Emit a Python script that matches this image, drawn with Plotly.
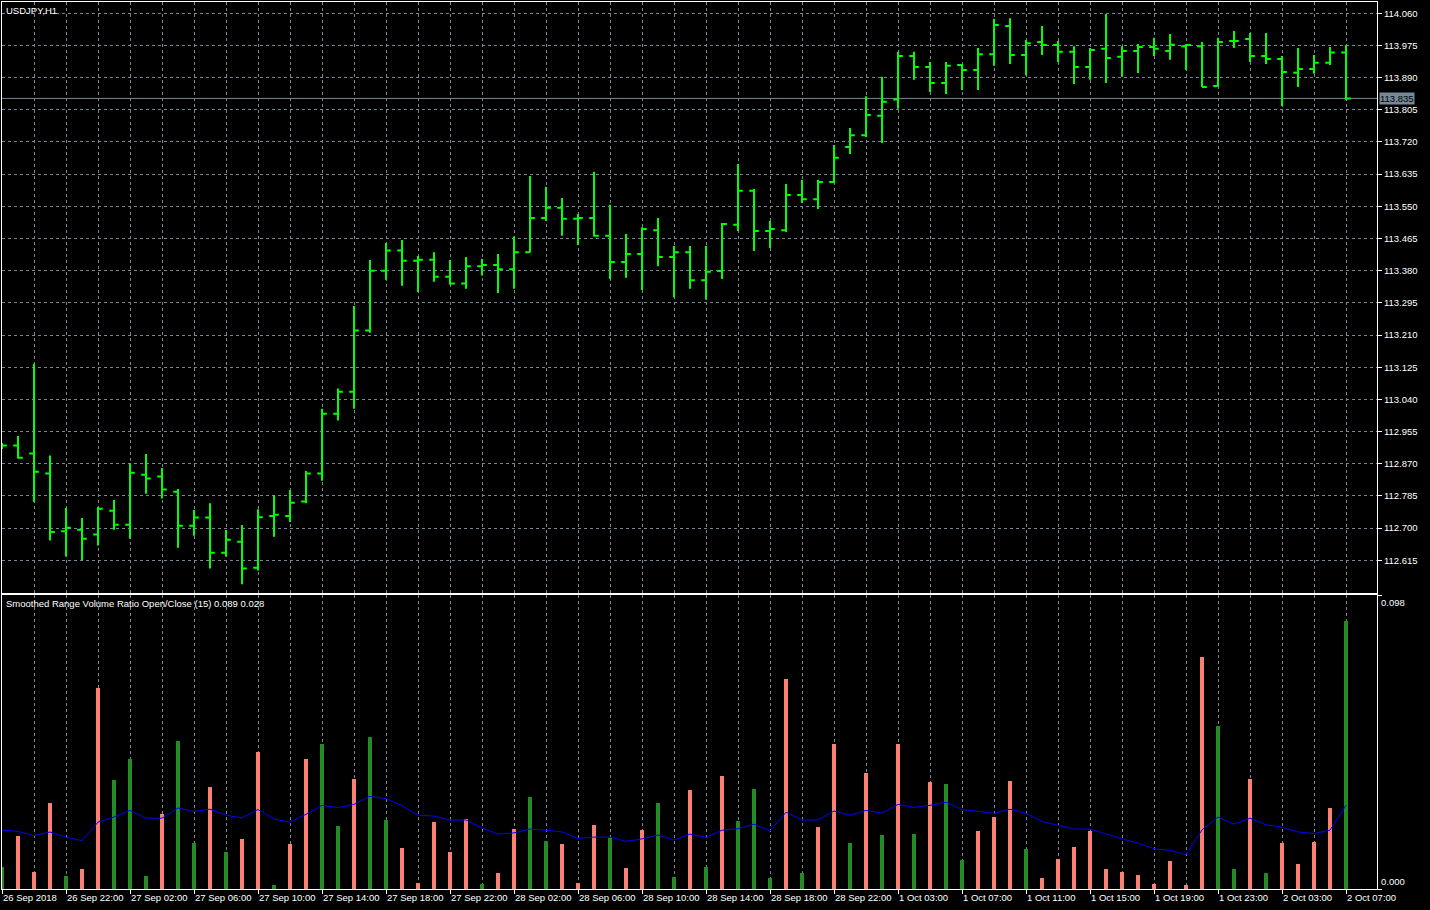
import plotly.graph_objects as go

# ---------------- data ----------------
bar_index = list(range(85))

open_ = [112.914, 112.918, 112.897, 112.844, 112.692, 112.696, 112.683, 112.746, 112.709, 112.841,
         112.836, 112.796, 112.706, 112.728, 112.635, 112.664, 112.595, 112.732, 112.732, 112.770,
         112.844, 113.002, 113.060, 113.222, 113.380, 113.433, 113.406, 113.409, 113.364, 113.346,
         113.392, 113.395, 113.384, 113.429, 113.519, 113.546, 113.517, 113.519, 113.472, 113.403,
         113.424, 113.487, 113.416, 113.429, 113.355, 113.379, 113.501, 113.591, 113.485, 113.487,
         113.580, 113.569, 113.614, 113.707, 113.738, 113.789, 113.832, 113.947, 113.918, 113.876,
         113.923, 113.910, 113.952, 114.026, 113.950, 113.984, 113.976, 113.958, 113.918, 113.966,
         113.945, 113.960, 113.971, 113.960, 113.973, 113.973, 113.868, 113.987, 113.992, 113.947,
         113.939, 113.903, 113.913, 113.929, 113.956]

high = [112.925, 112.943, 113.134, 112.892, 112.753, 112.727, 112.756, 112.774, 112.871, 112.896,
        112.859, 112.803, 112.748, 112.766, 112.695, 112.708, 112.750, 112.787, 112.801, 112.851,
        113.015, 113.069, 113.287, 113.408, 113.453, 113.461, 113.419, 113.429, 113.408, 113.416,
        113.411, 113.424, 113.470, 113.630, 113.601, 113.572, 113.530, 113.641, 113.554, 113.477,
        113.495, 113.519, 113.445, 113.445, 113.445, 113.506, 113.662, 113.596, 113.511, 113.609,
        113.620, 113.620, 113.712, 113.757, 113.841, 113.892, 113.958, 113.958, 113.931, 113.931,
        113.926, 113.968, 114.045, 114.047, 113.989, 114.026, 113.987, 113.973, 113.968, 114.058,
        113.973, 113.979, 113.995, 114.005, 113.979, 113.984, 113.995, 114.013, 114.008, 114.008,
        113.947, 113.968, 113.950, 113.971, 113.976]

low = [112.909, 112.884, 112.769, 112.667, 112.625, 112.616, 112.654, 112.696, 112.672, 112.791,
       112.778, 112.648, 112.680, 112.593, 112.625, 112.552, 112.588, 112.677, 112.716, 112.766,
       112.825, 112.984, 113.015, 113.216, 113.356, 113.340, 113.324, 113.351, 113.343, 113.332,
       113.367, 113.321, 113.332, 113.428, 113.511, 113.472, 113.448, 113.470, 113.358, 113.361,
       113.329, 113.392, 113.310, 113.332, 113.303, 113.358, 113.485, 113.432, 113.440, 113.482,
       113.559, 113.543, 113.611, 113.688, 113.733, 113.717, 113.808, 113.884, 113.852, 113.847,
       113.857, 113.857, 113.921, 113.926, 113.896, 113.950, 113.931, 113.873, 113.884, 113.876,
       113.892, 113.902, 113.947, 113.937, 113.910, 113.865, 113.868, 113.968, 113.931, 113.926,
       113.815, 113.865, 113.900, 113.923, 113.831]

close = [112.918, 112.886, 112.849, 112.690, 112.701, 112.672, 112.751, 112.709, 112.846, 112.831,
         112.802, 112.706, 112.728, 112.635, 112.669, 112.593, 112.729, 112.735, 112.767, 112.844,
         113.002, 113.060, 113.222, 113.380, 113.433, 113.406, 113.409, 113.364, 113.346, 113.392,
         113.395, 113.384, 113.429, 113.519, 113.546, 113.517, 113.519, 113.472, 113.403, 113.424,
         113.490, 113.416, 113.429, 113.355, 113.377, 113.503, 113.591, 113.485, 113.490, 113.580,
         113.569, 113.614, 113.678, 113.738, 113.791, 113.826, 113.947, 113.918, 113.876, 113.921,
         113.910, 113.952, 114.029, 113.950, 113.981, 113.976, 113.958, 113.918, 113.963, 113.942,
         113.960, 113.971, 113.966, 113.977, 113.976, 113.865, 113.984, 113.987, 113.947, 113.939,
         113.905, 113.913, 113.929, 113.956, 113.835]

ratio = [0.0072, 0.0177, 0.0057, 0.0288, 0.0043, 0.0067, 0.0669, 0.0365, 0.0432, 0.0043,
         0.0251, 0.0495, 0.0154, 0.0341, 0.0124, 0.0167, 0.0458, 0.0013, 0.0151, 0.0435,
         0.0485, 0.0211, 0.0368, 0.0508, 0.0231, 0.0137, 0.0020, 0.0224, 0.0124, 0.0234,
         0.0017, 0.0054, 0.0201, 0.0308, 0.0161, 0.0151, 0.0020, 0.0214, 0.0171, 0.0070,
         0.0197, 0.0288, 0.0040, 0.0331, 0.0074, 0.0378, 0.0227, 0.0335, 0.0037, 0.0699,
         0.0054, 0.0207, 0.0485, 0.0154, 0.0388, 0.0181, 0.0482, 0.0184, 0.0358, 0.0351,
         0.0097, 0.0194, 0.0241, 0.0361, 0.0134, 0.0037, 0.0100, 0.0140, 0.0194, 0.0067,
         0.0057, 0.0047, 0.0017, 0.0094, 0.0013, 0.0773, 0.0545, 0.0067, 0.0368, 0.0054,
         0.0154, 0.0084, 0.0157, 0.0271, 0.0893]

ratio_up = "GSSSGSSGGGSGGSGSSGSSGGSGGSSSSSGSSGGSSSGSSGGSGSGGGSGSSGSGSGSGGSSSGSSSSSSSSSSSGGSGSSSSG"

ratio_ma = [0.0196, 0.0192, 0.0178, 0.0190, 0.0173, 0.0161, 0.0223, 0.0240, 0.0262, 0.0236,
            0.0236, 0.0270, 0.0258, 0.0266, 0.0246, 0.0237, 0.0265, 0.0233, 0.0223, 0.0249,
            0.0279, 0.0271, 0.0282, 0.0309, 0.0301, 0.0278, 0.0246, 0.0243, 0.0230, 0.0230,
            0.0203, 0.0183, 0.0187, 0.0200, 0.0196, 0.0190, 0.0169, 0.0173, 0.0173, 0.0159,
            0.0167, 0.0180, 0.0163, 0.0183, 0.0172, 0.0196, 0.0201, 0.0216, 0.0193, 0.0256,
            0.0230, 0.0230, 0.0260, 0.0246, 0.0262, 0.0253, 0.0282, 0.0272, 0.0279, 0.0289,
            0.0265, 0.0258, 0.0252, 0.0266, 0.0252, 0.0225, 0.0212, 0.0200, 0.0200, 0.0183,
            0.0167, 0.0153, 0.0134, 0.0129, 0.0114, 0.0197, 0.0240, 0.0216, 0.0236, 0.0214,
            0.0206, 0.0190, 0.0185, 0.0196, 0.0279]

price_ticks = [112.615, 112.700, 112.785, 112.870, 112.955, 113.040, 113.125, 113.210, 113.295,
               113.380, 113.465, 113.550, 113.635, 113.720, 113.805, 113.890, 113.975, 114.060]

time_labels = ["26 Sep 2018", "26 Sep 22:00", "27 Sep 02:00", "27 Sep 06:00", "27 Sep 10:00",
               "27 Sep 14:00", "27 Sep 18:00", "27 Sep 22:00", "28 Sep 02:00", "28 Sep 06:00",
               "28 Sep 10:00", "28 Sep 14:00", "28 Sep 18:00", "28 Sep 22:00", "1 Oct 03:00",
               "1 Oct 07:00", "1 Oct 11:00", "1 Oct 15:00", "1 Oct 19:00", "1 Oct 23:00",
               "2 Oct 03:00", "2 Oct 07:00"]
time_label_pos = list(range(0, 85, 4))

bid_price = 113.835
symbol_title = "USDJPY,H1"
indicator_title = "Smoothed Range Volume Ratio Open/Close (15) 0.089 0.028"

# ---------------- styling ----------------
BAR_GREEN = "#00ff00"
UP_COL = "#228b22"
DOWN_COL = "#fa8072"
GRID = "#778899"
FONT = "Liberation Sans, Arial, sans-serif"
FS = 9.5

W, H = 1430, 910
ML, MR, MT, MB = 2, 53, 2, 21
plot_h = H - MT - MB
main_dom = [(H - MB - 593) / plot_h, 1.0]
ind_dom = [0.0, (H - MB - 595) / plot_h]
x_range = [0, (W - ML - MR) / 16.0]

fig = go.Figure()

fig.add_trace(go.Ohlc(
    x=bar_index, open=open_, high=high, low=low, close=close,
    increasing=dict(line=dict(color=BAR_GREEN, width=2)),
    decreasing=dict(line=dict(color=BAR_GREEN, width=2)),
    tickwidth=0.3, xaxis="x", yaxis="y", hoverinfo="skip", showlegend=False))

fig.add_trace(go.Bar(
    x=bar_index, y=ratio, width=0.25,
    marker=dict(color=[UP_COL if c == "G" else DOWN_COL for c in ratio_up], line=dict(width=0)),
    xaxis="x2", yaxis="y2", hoverinfo="skip", showlegend=False))

fig.add_trace(go.Scatter(
    x=bar_index, y=ratio_ma, mode="lines", line=dict(color="#0000ff", width=1),
    xaxis="x2", yaxis="y2", hoverinfo="skip", showlegend=False))

grid_vals = list(range(0, 85, 2))
minor_vals = [v for v in grid_vals if v % 4 != 0]

common_x = dict(range=x_range, showgrid=True, gridcolor=GRID, griddash="3px,3px", gridwidth=1,
                showline=True, mirror=True, linecolor="white", linewidth=1, zeroline=False)

fig.update_layout(
    width=W, height=H,
    margin=dict(l=ML, r=MR, t=MT, b=MB, autoexpand=False),
    paper_bgcolor="black", plot_bgcolor="black",
    hovermode=False, bargap=0,
    font=dict(family=FONT, size=FS, color="white"),
    xaxis=dict(domain=[0, 1], anchor="y", tickmode="array", tickvals=grid_vals,
               showticklabels=False, ticks="", rangeslider=dict(visible=False), **common_x),
    yaxis=dict(domain=main_dom, anchor="x", side="right",
               range=[112.5286, 114.0897], tickmode="array", tickvals=price_ticks,
               ticktext=[f"{v:.3f}" for v in price_ticks],
               showgrid=True, gridcolor=GRID, griddash="3px,3px", gridwidth=1,
               ticks="outside", ticklen=4, tickcolor="white",
               tickfont=dict(family=FONT, size=FS, color="white"),
               showline=True, mirror=True, linecolor="white", linewidth=1, zeroline=False),
    xaxis2=dict(domain=[0, 1], anchor="y2", matches="x", tickmode="array",
                tickvals=time_label_pos, showticklabels=False,
                ticks="outside", ticklen=4, tickcolor="white",
                minor=dict(tickmode="array", tickvals=minor_vals, showgrid=True,
                           gridcolor=GRID, griddash="3px,3px", gridwidth=1, ticks=""),
                **common_x),
    yaxis2=dict(domain=ind_dom, anchor="x2", side="right", range=[0, 0.098],
                tickmode="array", tickvals=[0, 0.098], ticktext=["", ""],
                ticks="outside", ticklen=4, tickcolor="white", showgrid=False,
                showline=True, mirror=True, linecolor="white", linewidth=1, zeroline=False),
)

# bid line
fig.add_shape(type="line", xref="paper", x0=0, x1=1, yref="y", y0=bid_price, y1=bid_price,
              line=dict(color=GRID, width=1), layer="below")

annotations = []
annotations.append(dict(xref="paper", yref="y", x=1, y=bid_price, xanchor="left", yanchor="middle",
                        xshift=2, text=f"{bid_price:.3f}", showarrow=False, bgcolor=GRID,
                        borderpad=0, font=dict(family=FONT, size=FS, color="black")))
annotations.append(dict(xref="paper", yref="paper", x=0, y=1, xanchor="left", yanchor="top",
                        xshift=2, yshift=-1, text=symbol_title, showarrow=False,
                        font=dict(family=FONT, size=FS, color="white")))
annotations.append(dict(xref="paper", yref="paper", x=0, y=ind_dom[1], xanchor="left", yanchor="top",
                        xshift=2, yshift=-1, text=indicator_title, showarrow=False,
                        font=dict(family=FONT, size=FS, color="white")))
annotations.append(dict(xref="paper", yref="y2", x=1, y=0.098, xanchor="left", yanchor="top",
                        xshift=2, text="0.098", showarrow=False,
                        font=dict(family=FONT, size=FS, color="white")))
annotations.append(dict(xref="paper", yref="y2", x=1, y=0, xanchor="left", yanchor="bottom",
                        xshift=2, text="0.000", showarrow=False,
                        font=dict(family=FONT, size=FS, color="white")))
for pos, lab in zip(time_label_pos, time_labels):
    annotations.append(dict(xref="x2", yref="paper", x=pos, y=0, xanchor="left", yanchor="top",
                            yshift=-1, xshift=-1, text=lab, showarrow=False,
                            font=dict(family=FONT, size=FS, color="white")))
fig.update_layout(annotations=annotations)

fig.write_html("out.html",
               config={"displayModeBar": False, "staticPlot": True},
               post_script="document.body.style.margin='0px';document.body.style.overflow='hidden';")
